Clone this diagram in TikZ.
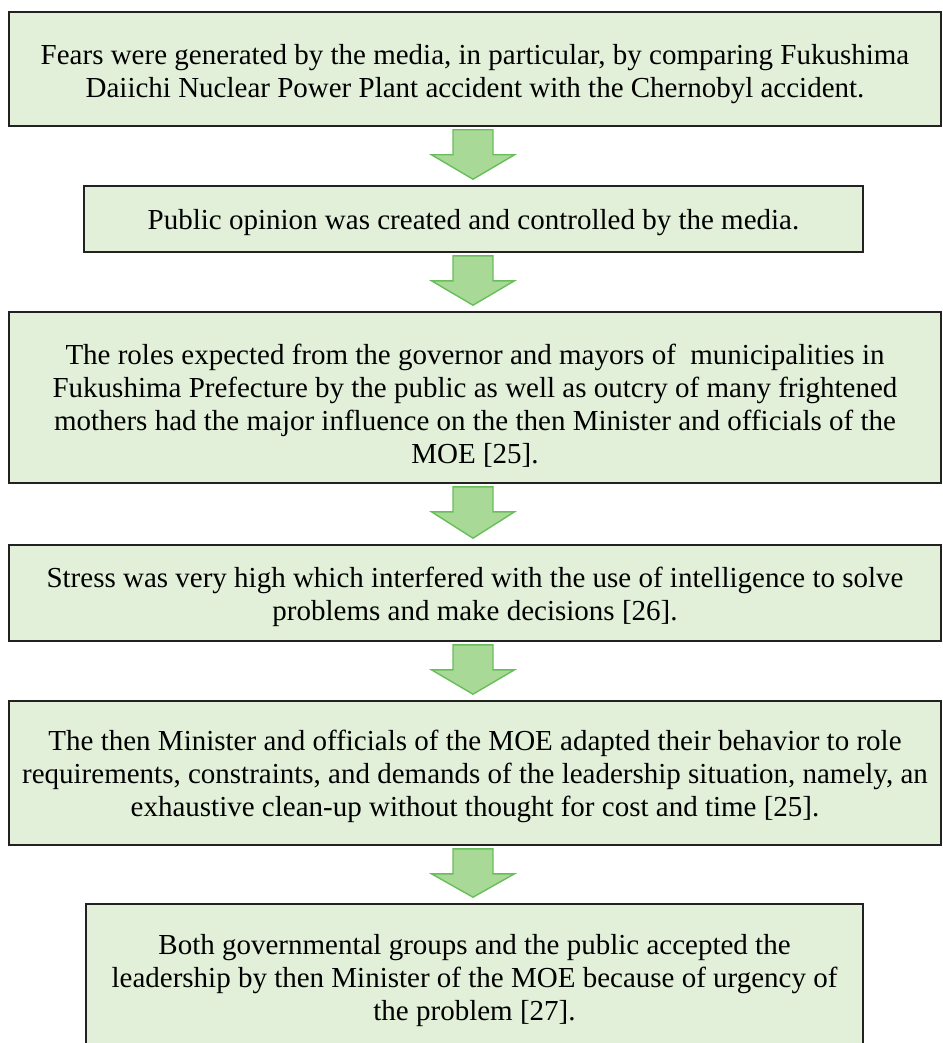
\documentclass[tikz,border=0pt]{standalone}
\usepackage{fontspec}
\setmainfont{Liberation Serif}
\usetikzlibrary{calc}
\definecolor{boxfill}{RGB}{226,240,217}
\definecolor{boxline}{RGB}{34,34,34}
\definecolor{arrfill}{RGB}{169,217,150}
\definecolor{arrline}{RGB}{104,190,90}
\tikzset{
  flowbox/.style={draw=boxline, fill=boxfill, line width=1.6pt, inner sep=0pt},
  flowtext/.style={inner sep=0pt, align=center, font=\fontsize{29}{33}\selectfont},
  blockarrow/.style={draw=arrline, fill=arrfill, line width=1.4pt, line join=miter}
}
\newcommand\flowarrow[2]{%
  \path let \p1=(#1.south), \p2=(#2.north),
        \n1={\y1-3pt}, \n2={\y1-28pt}, \n3={\y2+6pt} in
    [blockarrow] (453pt,\n1) -- (493pt,\n1) -- (493pt,\n2) -- (514.5pt,\n2)
      -- (473pt,\n3) -- (431.5pt,\n2) -- (453pt,\n2) -- cycle;}
\begin{document}
\begin{tikzpicture}[x=1pt,y=-1pt]
\useasboundingbox (0,0) rectangle (942,1043);
\node[flowbox, minimum width=932, minimum height=114] (b1) at (475,69) {};
\node[flowtext] (t1) at ($(b1.center)+(0,5)$)
  {Fears were generated by the media, in particular, by comparing Fukushima\\
   Daiichi Nuclear Power Plant accident with the Chernobyl accident.};
\node[flowbox, minimum width=779, minimum height=66] (b2) at (473.5,219) {};
\node[flowtext] (t2) at ($(b2.center)+(0,4)$)
  {Public opinion was created and controlled by the media.};
\node[flowbox, minimum width=932, minimum height=171] (b3) at (475,397.5) {};
\node[flowtext] (t3) at ($(b3.center)+(0,8)$)
  {The roles expected from the governor and mayors of\ \ municipalities in\\
   Fukushima Prefecture by the public as well as outcry of many frightened\\
   mothers had the major influence on the then Minister and officials of the\\
   MOE [25].};
\node[flowbox, minimum width=932, minimum height=96] (b4) at (475,593) {};
\node[flowtext] (t4) at ($(b4.center)+(0,4)$)
  {Stress was very high which interfered with the use of intelligence to solve\\
   problems and make decisions [26].};
\node[flowbox, minimum width=932, minimum height=144] (b5) at (475,773) {};
\node[flowtext] (t5) at ($(b5.center)+(0,3)$)
  {The then Minister and officials of the MOE adapted their behavior to role\\
   requirements, constraints, and demands of the leadership situation, namely, an\\
   exhaustive clean-up without thought for cost and time [25].};
\node[flowbox, minimum width=777, minimum height=148] (b6) at (474.5,978) {};
\node[flowtext] (t6) at ($(b6.center)+(0,3)$)
  {Both governmental groups and the public accepted the\\
   leadership by then Minister of the MOE because of urgency of\\
   the problem [27].};
\flowarrow{b1}{b2}
\flowarrow{b2}{b3}
\flowarrow{b3}{b4}
\flowarrow{b4}{b5}
\flowarrow{b5}{b6}
\end{tikzpicture}
\end{document}
